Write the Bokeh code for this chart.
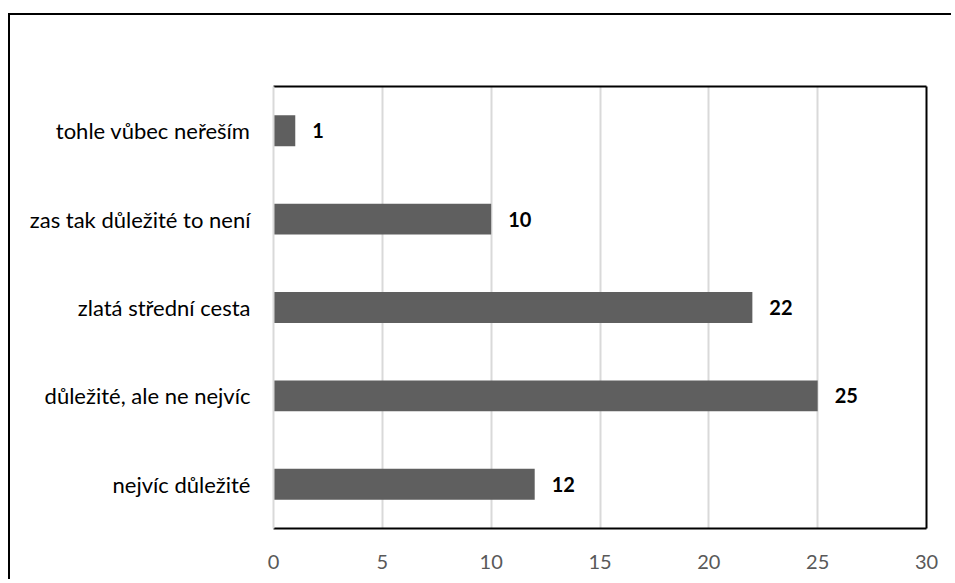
from bokeh.plotting import figure
from bokeh.models import ColumnDataSource, FactorRange, Range1d, FixedTicker, LinearAxis
from bokeh.embed import file_html
from bokeh.resources import INLINE
from bokeh.core.properties import value

categories = ["tohle vůbec neřeším", "zas tak důležité to není", "zlatá střední cesta",
              "důležité, ale ne nejvíc", "nejvíc důležité"]
counts = [1, 10, 22, 25, 12]
x_ticks = [0, 5, 10, 15, 20, 25, 30]

FONT = "Lato"

src = ColumnDataSource(dict(cat=categories, val=counts, lab=[str(v) for v in counts]))

W, H = 943, 566
p = figure(width=W, height=H, output_backend="svg", toolbar_location=None,
           y_range=FactorRange(factors=list(reversed(categories)), range_padding=0),
           x_range=Range1d(0, 30),
           min_border_left=263, min_border_right=W - 916, min_border_top=71, min_border_bottom=H - 513)
p.styles = {"border-top": "2px solid #000", "border-left": "2px solid #000",
            "margin-top": "13px", "margin-left": "8px"}
p.outline_line_color = None
p.background_fill_color = "white"
p.border_fill_color = "white"

p.hbar(y="cat", right="val", left=0, height=0.35, source=src, fill_color="#5f5f5f", line_color=None)
p.text(x="val", y="cat", text="lab", source=src, x_offset=17, text_align="left",
       text_baseline="middle", text_font=value(FONT), text_font_style="bold",
       text_font_size="20px", text_color="#000000")

p.xaxis.ticker = FixedTicker(ticks=x_ticks)
p.xaxis.axis_line_color = "#000000"
p.xaxis.axis_line_width = 2
p.xaxis.major_tick_line_color = None
p.xaxis.minor_tick_line_color = None
p.xaxis.major_label_text_font = FONT
p.xaxis.major_label_text_font_size = "20px"
p.xaxis.major_label_text_color = "#595959"
p.xaxis.major_label_standoff = 20

p.yaxis.axis_line_color = "#d9d9d9"
p.yaxis.axis_line_width = 2
p.yaxis.major_tick_line_color = None
p.yaxis.minor_tick_line_color = None
p.yaxis.major_label_text_font = FONT
p.yaxis.major_label_text_font_size = "22px"
p.yaxis.major_label_text_color = "#000000"
p.yaxis.major_label_standoff = 17

p.xgrid.ticker = FixedTicker(ticks=x_ticks)
p.xgrid.grid_line_color = "#d9d9d9"
p.xgrid.grid_line_width = 2
p.ygrid.grid_line_color = None

top_ax = LinearAxis(ticker=FixedTicker(ticks=[]), axis_line_color="#000000", axis_line_width=2,
                    major_tick_line_color=None, minor_tick_line_color=None, major_label_text_font_size="0px")
right_ax = LinearAxis(ticker=FixedTicker(ticks=[]), axis_line_color="#000000", axis_line_width=2,
                      major_tick_line_color=None, minor_tick_line_color=None, major_label_text_font_size="0px")
p.add_layout(top_ax, "above")
p.add_layout(right_ax, "right")

open("out.html", "w").write(file_html(p, INLINE))
